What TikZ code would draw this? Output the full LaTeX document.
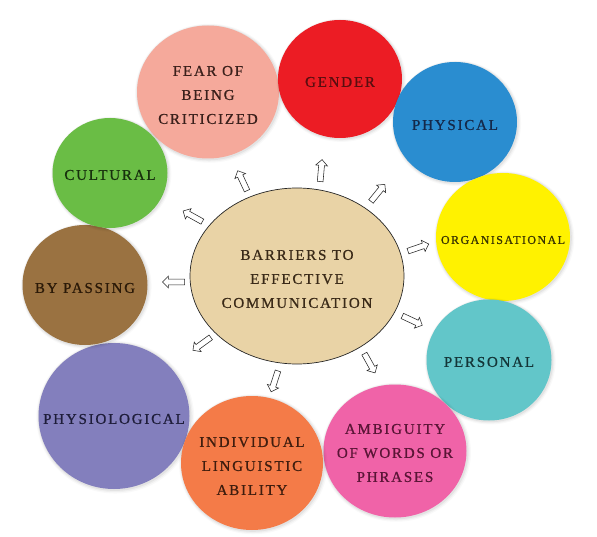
\documentclass[tikz,border=0pt]{standalone}
\usepackage{fontspec}
\usetikzlibrary{shapes.geometric,shapes.arrows,shadows}
\newfontfamily\capsfont[LetterSpace=12,FakeBold=0.8]{Liberation Serif}
\definecolor{cFear}{HTML}{F5A99B}
\definecolor{cGender}{HTML}{EC1C24}
\definecolor{cPhysical}{HTML}{2A8DD0}
\definecolor{cOrg}{HTML}{FFF200}
\definecolor{cPersonal}{HTML}{62C6C9}
\definecolor{cAmbig}{HTML}{F063A8}
\definecolor{cIndiv}{HTML}{F47B48}
\definecolor{cPhysio}{HTML}{837FBD}
\definecolor{cBypass}{HTML}{9A7241}
\definecolor{cCultural}{HTML}{6ABD45}
\definecolor{cCentre}{HTML}{E9D3A6}
\definecolor{tFear}{HTML}{3A201B}
\definecolor{tGender}{HTML}{5A0E10}
\definecolor{tPhysical}{HTML}{14294A}
\definecolor{tOrg}{HTML}{3A3500}
\definecolor{tPersonal}{HTML}{143638}
\definecolor{tAmbig}{HTML}{5A1536}
\definecolor{tIndiv}{HTML}{3F1D0E}
\definecolor{tPhysio}{HTML}{1E1D3A}
\definecolor{tBypass}{HTML}{2B1A08}
\definecolor{tCultural}{HTML}{17300D}
\definecolor{tCentre}{HTML}{3A2A18}
\tikzset{
  bub/.style={ellipse, inner sep=0pt,
    general shadow={shadow scale=1.045, shadow xshift=1.2pt, shadow yshift=-1.2pt, fill=black, opacity=0.025},
    general shadow={shadow scale=1.03, shadow xshift=1pt, shadow yshift=-1pt, fill=black, opacity=0.035},
    general shadow={shadow scale=1.015, shadow xshift=0.8pt, shadow yshift=-0.8pt, fill=black, opacity=0.05}},
  bubtext/.style={align=center, inner sep=0pt, font=\capsfont\fontsize{15}{24}\selectfont},
  outarrow/.style={single arrow, draw=black!85, fill=white, line width=0.55pt,
    minimum height=22pt, inner sep=2.6pt, single arrow head extend=3pt}
}
\begin{document}
\begin{tikzpicture}[x=1pt,y=-1pt]
\useasboundingbox[fill=white] (0,0) rectangle (597,537);
% outer bubbles
\node[bub, fill=cFear, minimum width=142pt, minimum height=133pt] (fear) at (208,92) {};
\node[bub, fill=cGender, minimum width=124pt, minimum height=118pt] (gender) at (340,79) {};
\node[bub, fill=cPhysical, minimum width=124pt, minimum height=120pt] (physical) at (455,122) {};
\node[bub, fill=cOrg, minimum width=134pt, minimum height=128pt] (org) at (503,237) {};
\node[bub, fill=cPersonal, minimum width=125pt, minimum height=121pt] (personal) at (489,360) {};
\node[bub, fill=cAmbig, minimum width=143pt, minimum height=133pt] (ambig) at (395,451) {};
\node[bub, fill=cPhysio, minimum width=151pt, minimum height=146pt] (physio) at (114,416) {};
\node[bub, fill=cIndiv, minimum width=142pt, minimum height=134pt] (indiv) at (252,463) {};
\node[bub, fill=cBypass, minimum width=125pt, minimum height=120pt] (bypass) at (85,285) {};
\node[bub, fill=cCultural, minimum width=115pt, minimum height=110pt] (cultural) at (110,173) {};
% centre
\node[ellipse, inner sep=0pt, fill=cCentre, draw=black!85, line width=0.7pt,
  minimum width=214pt, minimum height=176pt] (centre) at (297,276) {};
% texts
\node[bubtext, text=tFear] (tfear) at ([yshift=-3pt]fear.center) {FEAR OF\\BEING\\CRITICIZED};
\node[bubtext, text=tGender] (tgender) at ([yshift=-3pt]gender.center) {GENDER};
\node[bubtext, text=tPhysical] (tphysical) at ([yshift=-3pt]physical.center) {PHYSICAL};
\node[bubtext, text=tOrg, font=\capsfont\fontsize{12}{22}\selectfont] (torg) at ([yshift=-3pt]org.center) {ORGANISATIONAL};
\node[bubtext, text=tPersonal] (tpersonal) at ([yshift=-2pt]personal.center) {PERSONAL};
\node[bubtext, text=tAmbig] (tambig) at ([yshift=-2pt]ambig.center) {AMBIGUITY\\OF WORDS OR\\PHRASES};
\node[bubtext, text=tPhysio] (tphysio) at ([yshift=-3pt]physio.center) {PHYSIOLOGICAL};
\node[bubtext, text=tIndiv] (tindiv) at ([yshift=-3pt]indiv.center) {INDIVIDUAL\\LINGUISTIC\\ABILITY};
\node[bubtext, text=tBypass] (tbypass) at ([yshift=-3pt]bypass.center) {BY PASSING};
\node[bubtext, text=tCultural] (tcultural) at ([yshift=-2pt]cultural.center) {CULTURAL};
\node[bubtext, text=tCentre] (tcentre) at ([yshift=-3pt]centre.center) {BARRIERS TO\\EFFECTIVE\\COMMUNICATION};
% arrows
\node[outarrow, rotate=115] (a1) at (243,182) {};
\node[outarrow, rotate=85]  (a2) at (321,172) {};
\node[outarrow, rotate=51]  (a3) at (377,194) {};
\node[outarrow, rotate=19]  (a4) at (417,248) {};
\node[outarrow, rotate=-25] (a5) at (411,320) {};
\node[outarrow, rotate=-61] (a6) at (369,362) {};
\node[outarrow, rotate=-108] (a7) at (275,380) {};
\node[outarrow, rotate=-144] (a8) at (203,343) {};
\node[outarrow, rotate=180] (a9) at (175,282) {};
\node[outarrow, rotate=151] (a10) at (194,217) {};
\end{tikzpicture}
\end{document}
